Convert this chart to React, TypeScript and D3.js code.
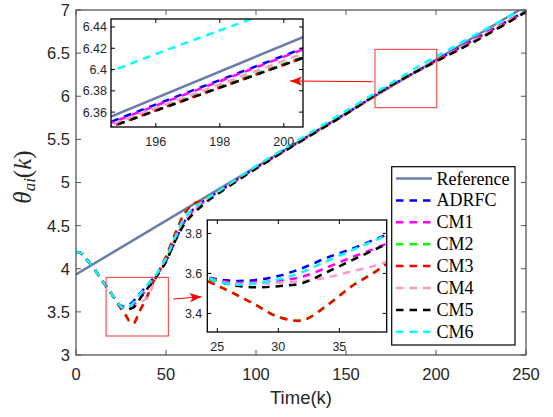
import * as d3 from 'd3'

// sample instants (k) shared by all controller series
const K = [0, 2, 5, 10, 15, 20, 24, 26, 28, 30, 32, 34, 36, 38, 40, 43, 46, 50, 55, 60, 65, 70, 75, 80, 90, 100, 125, 150, 175, 194, 201, 225, 250]

const REF_K = [0, 250]
const REFERENCE = [3.935, 7.045]

const ADRFC = [4.18, 4.19, 4.13, 4.0, 3.85, 3.7, 3.585, 3.564, 3.566, 3.587, 3.627, 3.679, 3.722, 3.772, 3.82, 3.89, 3.97, 4.09, 4.32, 4.54, 4.685, 4.77, 4.84, 4.905, 5.04, 5.17, 5.485, 5.8, 6.122, 6.344, 6.4245, 6.7, 6.99]
const CM1 = [4.18, 4.19, 4.13, 4.0, 3.85, 3.7, 3.584, 3.555, 3.556, 3.563, 3.584, 3.63, 3.68, 3.727, 3.78, 3.87, 3.96, 4.11, 4.36, 4.545, 4.67, 4.76, 4.835, 4.9, 5.035, 5.168, 5.483, 5.8, 6.124, 6.343, 6.4236, 6.7, 6.99]
const CM2 = [4.18, 4.19, 4.13, 4.0, 3.85, 3.7, 3.57, 3.512, 3.449, 3.384, 3.366, 3.442, 3.537, 3.612, 3.702, 3.852, 3.972, 4.142, 4.402, 4.632, 4.752, 4.792, 4.847, 4.912, 5.047, 5.177, 5.487, 5.797, 6.122, 6.3405, 6.4163, 6.682, 6.982]
const CM3 = [4.18, 4.19, 4.13, 4.0, 3.85, 3.7, 3.568, 3.51, 3.447, 3.382, 3.366, 3.44, 3.535, 3.61, 3.7, 3.85, 3.97, 4.14, 4.4, 4.63, 4.75, 4.79, 4.845, 4.91, 5.045, 5.175, 5.485, 5.795, 6.12, 6.3395, 6.4153, 6.68, 6.98]
const CM4 = [4.18, 4.19, 4.13, 4.0, 3.85, 3.7, 3.584, 3.551, 3.549, 3.553, 3.562, 3.58, 3.61, 3.64, 3.69, 3.82, 3.95, 4.1, 4.35, 4.54, 4.665, 4.755, 4.83, 4.895, 5.03, 5.165, 5.48, 5.795, 6.125, 6.3413, 6.4195, 6.69, 6.985]
const CM5 = [4.18, 4.19, 4.13, 4.0, 3.85, 3.7, 3.582, 3.545, 3.531, 3.536, 3.552, 3.607, 3.665, 3.722, 3.78, 3.86, 3.95, 4.08, 4.32, 4.51, 4.635, 4.73, 4.815, 4.885, 5.025, 5.16, 5.48, 5.795, 6.128, 6.3395, 6.4153, 6.675, 6.98]
const CM6 = [4.18, 4.19, 4.13, 4.0, 3.85, 3.7, 3.584, 3.546, 3.55, 3.57, 3.608, 3.663, 3.715, 3.768, 3.82, 3.89, 3.98, 4.12, 4.36, 4.58, 4.7, 4.775, 4.845, 4.91, 5.05, 5.19, 5.51, 5.83, 6.15, 6.3912, 6.4703, 6.75, 7.03]

const MAIN_X_TICKS = [0, 50, 100, 150, 200, 250]
const MAIN_Y_TICKS = [3, 3.5, 4, 4.5, 5, 5.5, 6, 6.5, 7]
const ZOOM1_X_TICKS = [196, 198, 200]
const ZOOM1_Y_TICKS = [6.36, 6.38, 6.4, 6.42, 6.44]
const ZOOM2_X_TICKS = [25, 30, 35]
const ZOOM2_Y_TICKS = [3.4, 3.6, 3.8]

// zoom windows marked on the main axes: [k0, k1, v0, v1]
const MARK1 = [166.1, 200.4, 5.867, 6.544]
const MARK2 = [16.7, 51.3, 3.22, 3.9]
// arrows: [kFrom, vFrom, kTo, vTo]
const ARROW1 = [164.8, 6.169, 118.9, 6.177]
const ARROW2 = [54.1, 3.649, 69.8, 3.676]

const DASH = '7.5,6'
const SERIES = [
  { name: 'Reference', color: '#6a7ca8', dash: null, k: REF_K, v: REFERENCE },
  { name: 'ADRFC', color: '#0000ff', dash: DASH, k: K, v: ADRFC },
  { name: 'CM1', color: '#ff00ff', dash: DASH, k: K, v: CM1 },
  { name: 'CM2', color: '#00ff00', dash: DASH, k: K, v: CM2 },
  { name: 'CM3', color: '#ff0000', dash: DASH, k: K, v: CM3 },
  { name: 'CM4', color: '#ff99cc', dash: DASH, k: K, v: CM4 },
  { name: 'CM5', color: '#000000', dash: DASH, k: K, v: CM5 },
  { name: 'CM6', color: '#00ffff', dash: DASH, k: K, v: CM6 },
]

const SANS = '"Liberation Sans", Arial, Helvetica, sans-serif'
const SERIF = '"Liberation Serif", "Times New Roman", serif'

function Panel({ id, box, xDomain, yDomain, xTicks, yTicks, fontSize, tickLen, frameColor, frameWidth, labelGap, xLabelY, background }) {
  const x = d3.scaleLinear().domain(xDomain).range([box.left, box.right])
  const y = d3.scaleLinear().domain(yDomain).range([box.bottom, box.top])
  const line = d3
    .line<[number, number]>()
    .x((d) => x(d[0]))
    .y((d) => y(d[1]))
    .curve(d3.curveCatmullRom.alpha(0.5))
  const w = box.right - box.left
  const h = box.bottom - box.top

  return (
    <g>
      <clipPath id={id}>
        <rect x={box.left} y={box.top} width={w} height={h} />
      </clipPath>
      {background && <rect x={box.left} y={box.top} width={w} height={h} fill="#fff" />}
      <g clipPath={`url(#${id})`}>
        {SERIES.map((s) => (
          <path
            key={s.name}
            d={line(s.k.map((k, i) => [k, s.v[i]] as [number, number])) || ''}
            fill="none"
            stroke={s.color}
            strokeWidth={2.5}
            strokeDasharray={s.dash || undefined}
          />
        ))}
      </g>
      {/* ticks on all four sides, pointing in */}
      {xTicks.map((t) => (
        <g key={'x' + t}>
          <line x1={x(t)} x2={x(t)} y1={box.bottom} y2={box.bottom - tickLen} stroke={frameColor} strokeWidth={1} />
          <line x1={x(t)} x2={x(t)} y1={box.top} y2={box.top + tickLen} stroke={frameColor} strokeWidth={1} />
          <text x={x(t)} y={xLabelY} textAnchor="middle" fontFamily={SANS} fontSize={fontSize} fill="#262626">
            {t}
          </text>
        </g>
      ))}
      {yTicks.map((t) => (
        <g key={'y' + t}>
          <line x1={box.left} x2={box.left + tickLen} y1={y(t)} y2={y(t)} stroke={frameColor} strokeWidth={1} />
          <line x1={box.right} x2={box.right - tickLen} y1={y(t)} y2={y(t)} stroke={frameColor} strokeWidth={1} />
          <text
            x={box.left - labelGap}
            y={y(t)}
            dy="0.36em"
            textAnchor="end"
            fontFamily={SANS}
            fontSize={fontSize}
            fill="#262626"
          >
            {t}
          </text>
        </g>
      ))}
      <rect x={box.left} y={box.top} width={w} height={h} fill="none" stroke={frameColor} strokeWidth={frameWidth} />
    </g>
  )
}

function Arrow({ x1, y1, x2, y2 }) {
  const ang = (Math.atan2(y2 - y1, x2 - x1) * 180) / Math.PI
  return (
    <g>
      <line x1={x1} y1={y1} x2={x2} y2={y2} stroke="#ff0000" strokeWidth={1} />
      <path d="M0,0 L-12,-4.6 L-9,0 L-12,4.6 Z" fill="#ff0000" transform={`translate(${x2},${y2}) rotate(${ang})`} />
    </g>
  )
}

export default function App() {
  const main = { left: 76, right: 526, top: 10, bottom: 355 }
  const zoom1 = { left: 111, right: 303, top: 19, bottom: 127 }
  const zoom2 = { left: 207.3, right: 386.7, top: 220, bottom: 332 }

  const x = d3.scaleLinear().domain([0, 250]).range([main.left, main.right])
  const y = d3.scaleLinear().domain([3, 7]).range([main.bottom, main.top])

  const markRect = (m: number[], key: string) => (
    <rect
      key={key}
      x={x(m[0])}
      y={y(m[3])}
      width={x(m[1]) - x(m[0])}
      height={y(m[2]) - y(m[3])}
      fill="none"
      stroke="#ff3333"
      strokeWidth={1}
    />
  )

  const legTop = 166.7
  const legStep = 21.9

  return (
    <svg width={553} height={417} style={{ position: 'absolute', left: 0, top: 0, background: '#fff' }}>
      <rect width={553} height={417} fill="#fff" />
      <Panel
        id="clip-main"
        box={main}
        xDomain={[0, 250]}
        yDomain={[3, 7]}
        xTicks={MAIN_X_TICKS}
        yTicks={MAIN_Y_TICKS}
        fontSize={16.5}
        tickLen={5}
        frameColor="#555"
        frameWidth={1.3}
        labelGap={6}
        xLabelY={380}
        background={false}
      />
      {markRect(MARK1, 'm1')}
      {markRect(MARK2, 'm2')}
      <Panel
        id="clip-z1"
        box={zoom1}
        xDomain={[194.6, 200.6]}
        yDomain={[6.346, 6.4475]}
        xTicks={ZOOM1_X_TICKS}
        yTicks={ZOOM1_Y_TICKS}
        fontSize={12.5}
        tickLen={4}
        frameColor="#000"
        frameWidth={1.3}
        labelGap={4}
        xLabelY={146}
        background={true}
      />
      <Panel
        id="clip-z2"
        box={zoom2}
        xDomain={[24.18, 38.88]}
        yDomain={[3.307, 3.867]}
        xTicks={ZOOM2_X_TICKS}
        yTicks={ZOOM2_Y_TICKS}
        fontSize={12.5}
        tickLen={4}
        frameColor="#000"
        frameWidth={1.3}
        labelGap={5}
        xLabelY={351}
        background={true}
      />
      <Arrow x1={x(ARROW1[0])} y1={y(ARROW1[1])} x2={x(ARROW1[2])} y2={y(ARROW1[3])} />
      <Arrow x1={x(ARROW2[0])} y1={y(ARROW2[1])} x2={x(ARROW2[2])} y2={y(ARROW2[3])} />

      {/* legend */}
      <g>
        <rect x={391.7} y={legTop} width={123.3} height={178.3} fill="#fff" stroke="#000" strokeWidth={1.2} />
        {SERIES.map((s, i) => {
          const cy = legTop + 11.8 + i * legStep
          return (
            <g key={s.name}>
              <line x1={396} x2={432} y1={cy} y2={cy} stroke={s.color} strokeWidth={2.5} strokeDasharray={s.dash || undefined} />
              <text x={436.5} y={cy + 6} fontFamily={SERIF} fontSize={18} fill="#000">
                {s.name}
              </text>
            </g>
          )
        })}
      </g>

      {/* axis labels */}
      <text x={301} y={404} textAnchor="middle" fontFamily={SANS} fontSize={18.5} fill="#262626">
        Time(k)
      </text>
      <text transform="translate(31,177) rotate(-90)" textAnchor="middle" fontFamily={SERIF} fontSize={25} fill="#262626">
        <tspan fontStyle="italic">θ</tspan>
        <tspan fontStyle="italic" fontSize={17} dy={4}>ai</tspan>
        <tspan dy={-4}>(</tspan>
        <tspan fontStyle="italic">k</tspan>
        <tspan>)</tspan>
      </text>
    </svg>
  )
}
